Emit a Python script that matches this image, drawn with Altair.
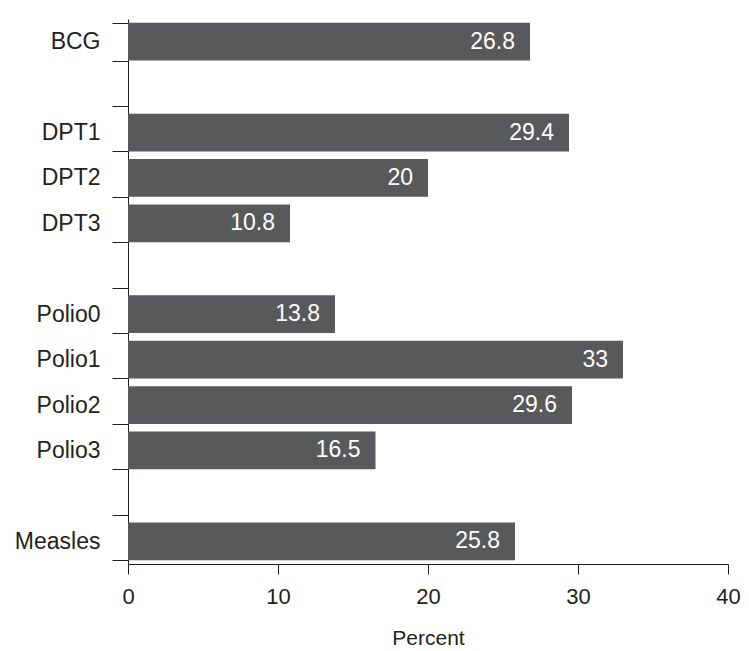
import altair as alt
import pandas as pd

categories = ["BCG", " ", "DPT1", "DPT2", "DPT3", "  ", "Polio0", "Polio1", "Polio2", "Polio3", "   ", "Measles"]
values = [26.8, None, 29.4, 20.0, 10.8, None, 13.8, 33.0, 29.6, 16.5, None, 25.8]
labels = ["26.8", "", "29.4", "20", "10.8", "", "13.8", "33", "29.6", "16.5", "", "25.8"]

df = pd.DataFrame({"cat": categories, "val": values, "lab": labels})
bars_df = df.dropna()

FONT = "Liberation Sans"
FS = 22

y_enc = alt.Y("cat:N", sort=categories,
              scale=alt.Scale(domain=categories, paddingInner=0.17, paddingOuter=0.085),
              axis=alt.Axis(title=None, tickBand="extent", tickSize=16, labelPadding=12,
                            labelFontSize=23, labelFont=FONT, labelColor="#231f20",
                            domainColor="#231f20", tickColor="#231f20", labelLimit=200))
x_enc = alt.X("val:Q", scale=alt.Scale(domain=[0, 40], nice=False),
              axis=alt.Axis(values=[0, 10, 20, 30, 40], title="Percent", grid=False,
                            tickSize=10, labelPadding=12, labelFontSize=FS, labelFont=FONT,
                            labelColor="#231f20", titleFontSize=FS - 1, titleFont=FONT,
                            titleFontWeight="normal", titleColor="#231f20", titlePadding=20,
                            domainColor="#231f20", tickColor="#231f20", labelFlush=False))

bars = alt.Chart(bars_df).mark_bar(color="#58595b").encode(y=y_enc, x=x_enc)
text = alt.Chart(bars_df).mark_text(align="right", baseline="middle", dx=-15, color="white",
                                   font=FONT, fontSize=23).encode(
    y=alt.Y("cat:N", sort=categories), x="val:Q", text="lab:N")

chart = (bars + text).properties(
    width=600, height=545,
    padding={"left": 6, "top": 0, "right": 0, "bottom": 0},
).configure_view(stroke=None)

chart.save("out.html", embed_options={"renderer": "svg", "actions": False})
